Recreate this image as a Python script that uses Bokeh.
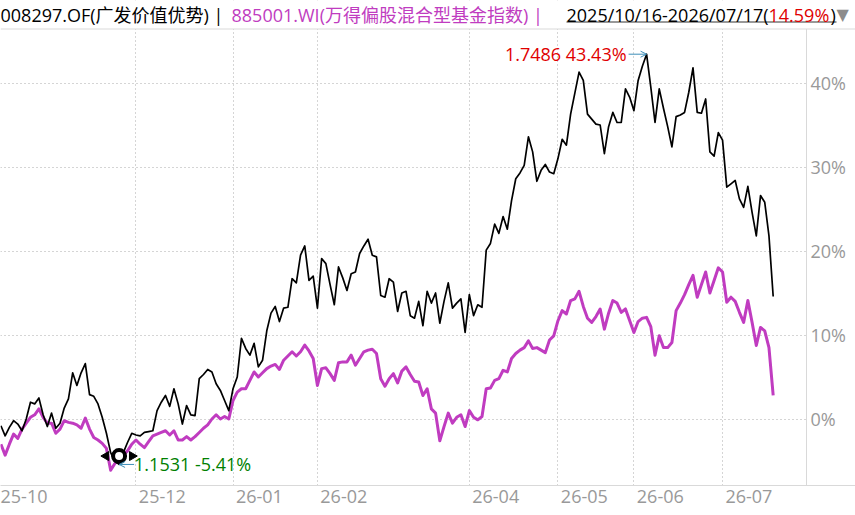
import math
from bokeh.plotting import figure
from bokeh.models import Range1d, FixedTicker, Label, Span, Arrow, OpenHead, BoxAnnotation
from bokeh.core.properties import value
from bokeh.embed import file_html
from bokeh.resources import INLINE

# ---------------- data ----------------
fund_name = "008297.OF(广发价值优势)"
bench_name = "885001.WI(万得偏股混合型基金指数)"
period = "2025/10/16-2026/07/17"
max_nav = "1.7486"
min_nav = "1.1531"

# cumulative return (%) of the fund, one value per trading day
fund_pct = [
    -0.8, -2.0, -1.0, -0.2, -0.6, -1.4, 0.0, 2.0, 1.8, 2.5,
    0.5, -0.9, 0.7, -1.1, -0.5, 1.3, 2.4, 5.5, 4.0, 5.5,
    6.6, 2.9, 2.7, 1.8, 0.2, -1.7, -4.0, -5.0, -5.41, -4.0,
    -2.8, -1.7, -1.9, -2.0, -1.6, -1.5, -1.4, 1.0, 2.0, 2.8,
    1.5, 3.6, 1.8, -0.6, 1.6, 0.5, 0.4, 4.8, 5.3, 5.9,
    5.6, 4.2, 3.4, 2.2, 1.0, 3.6, 5.0, 9.6, 8.4, 7.6,
    9.0, 6.2, 7.0, 10.5, 12.6, 13.4, 11.6, 13.2, 13.3, 16.7,
    16.2, 19.5, 20.6, 16.5, 17.0, 13.2, 19.1, 18.5, 16.0, 13.6,
    18.1, 16.8, 15.3, 17.3, 17.5, 19.7, 20.6, 21.4, 19.5, 19.3,
    14.7, 14.5, 16.7, 16.3, 12.8, 15.0, 15.2, 12.3, 12.0, 14.0,
    11.1, 15.2, 13.8, 15.0, 11.4, 14.0, 16.2, 13.2, 13.8, 14.3,
    10.3, 14.8, 12.3, 13.6, 13.3, 20.1, 20.9, 23.2, 22.1, 24.1,
    22.6, 26.0, 28.6, 29.3, 30.2, 33.6, 31.8, 28.3, 29.6, 30.3,
    29.4, 29.2, 31.0, 33.3, 32.6, 36.3, 38.8, 41.3, 40.3, 36.3,
    35.7, 35.1, 35.0, 31.6, 34.8, 36.5, 35.3, 35.3, 39.3, 38.3,
    36.7, 40.3, 42.0, 43.43, 39.5, 35.3, 39.3, 37.0, 34.8, 32.4,
    36.0, 36.2, 36.5, 38.9, 41.8, 36.5, 36.4, 38.1, 31.8, 31.3,
    34.1, 33.2, 27.6, 28.0, 28.4, 26.2, 25.2, 27.7, 24.6, 21.8,
    26.6, 25.8, 21.8, 14.59,
]

# cumulative return (%) of the benchmark index
bench_pct = [
    -3.0, -4.3, -3.0, -1.8, -2.3, -1.2, -0.5, 0.2, 0.5, 1.2,
    0.2, -0.5, -0.5, -1.7, -1.2, -0.2, -0.4, -0.5, -0.7, -1.1,
    0.1, -1.2, -2.2, -2.5, -2.9, -3.5, -6.1, -5.3, -4.8, -4.3,
    -3.8, -3.0, -2.5, -3.0, -3.4, -2.7, -2.0, -1.8, -1.6, -1.4,
    -1.9, -1.4, -2.5, -2.5, -2.1, -2.5, -2.1, -1.6, -1.1, -0.7,
    0.0, 0.5, 0.0, 0.3, 0.0, 2.2, 3.2, 3.6, 3.6, 4.6,
    5.6, 5.0, 5.5, 6.0, 6.3, 6.5, 5.9, 7.0, 7.5, 8.0,
    7.5, 8.0, 8.8, 8.1, 7.2, 4.0, 6.0, 6.1, 5.4, 4.6,
    6.7, 6.8, 6.8, 7.6, 6.4, 7.2, 8.0, 8.2, 8.3, 7.8,
    4.8, 3.9, 4.8, 5.4, 4.3, 5.7, 6.2, 5.3, 4.5, 4.4,
    2.8, 3.6, 1.2, 0.7, -2.6, -0.9, 0.7, -0.5, 0.2, 0.5,
    -0.9, 1.0, 0.2, -0.1, 0.3, 3.6, 3.7, 4.6, 4.8, 5.8,
    5.6, 7.2, 7.8, 8.2, 8.5, 9.3, 8.4, 8.5, 8.2, 7.9,
    9.4, 9.9, 11.7, 12.9, 12.5, 14.1, 14.3, 15.2, 13.4, 12.0,
    11.5, 12.2, 13.1, 10.7, 12.6, 14.1, 13.8, 12.7, 13.1, 11.7,
    10.3, 11.6, 12.0, 12.1, 11.0, 7.6, 9.9, 8.5, 8.5, 9.1,
    12.9, 13.8, 14.8, 16.0, 17.1, 14.5, 16.0, 17.5, 15.0, 16.5,
    18.0, 17.5, 13.9, 14.5, 14.0, 12.7, 11.5, 14.1, 11.5, 8.75,
    10.9, 10.5, 8.5, 2.8,
]

month_labels = ["25-10", "25-12", "26-01", "26-02", "26-04", "26-05", "26-06", "26-07"]
month_index = [0, 32, 55, 75, 111, 132, 150, 171]
grid_index = [32, 55, 75, 111, 132, 150, 171]
y_ticks = [0, 10, 20, 30, 40]

# ---------------- style / layout ----------------
FONT = "'Open Sans', 'Noto Sans CJK SC', sans-serif"
FUND_COLOR = "#000000"
BENCH_COLOR = "#c03cc0"
AXIS_TEXT = "#999999"
GRID = "#aaaaaa"
BORDER = "#d9d9d9"
RED = "#e00000"
GREEN = "#008000"
TEAL = "#3d8eb9"

FRAME_W, FRAME_H = 855, 485   # whole width; the value scale sits at the right
PLOT_RIGHT = 806              # px where the line area ends
ppu = 4.22                    # px per trading day
ppv = 8.4                     # px per 1 %
X0 = -0.1
X1 = X0 + FRAME_W / ppu
ZERO_PX = 418.5               # px from the top where 0 % sits
Y1 = ZERO_PX / ppv
Y0 = Y1 - FRAME_H / ppv


def px_x(px):
    return X0 + px / ppu


def px_y(px):
    return Y1 - px / ppv


p = figure(frame_width=FRAME_W, frame_height=FRAME_H,
           x_range=Range1d(X0, X1), y_range=Range1d(Y0, Y1),
           y_axis_location=None, output_backend="svg", toolbar_location=None,
           min_border_left=0, min_border_right=0, min_border_top=0, min_border_bottom=30)
p.outline_line_color = None
p.background_fill_color = "white"

# x axis (month labels, left-aligned after each month's grid line)
xa = p.xaxis[0]
label_shift = 6.25
xticks = [m + label_shift for m in month_index]
xticks[0] = max(xticks[0], px_x(23.5))
xticks[0] = min(xticks[0], px_x(23.5))
xa.ticker = FixedTicker(ticks=xticks)
xa.major_label_overrides = {t: lab for t, lab in zip(xticks, month_labels)}
xa.axis_line_color = BORDER
xa.major_tick_out = 0
xa.major_tick_in = 0
xa.minor_tick_out = 0
xa.minor_tick_in = 0
xa.major_label_standoff = 4
xa.major_label_text_font = FONT
xa.major_label_text_font_size = "18px"
xa.major_label_text_color = AXIS_TEXT

# grids
p.xgrid.ticker = FixedTicker(ticks=grid_index)
p.xgrid.grid_line_color = GRID
p.xgrid.grid_line_dash = "1 3"
p.ygrid.ticker = FixedTicker(ticks=y_ticks)
p.ygrid.grid_line_color = GRID
p.ygrid.grid_line_dash = "1 3"

# header band and value-scale band cover the grid
HEADER_LINE = px_y(28.5)
p.add_layout(BoxAnnotation(bottom=HEADER_LINE, fill_color="white", fill_alpha=1,
                           line_color=None, level="underlay"))
p.add_layout(BoxAnnotation(left=px_x(PLOT_RIGHT), fill_color="white", fill_alpha=1,
                           line_color=None, level="underlay"))
p.add_layout(Span(location=HEADER_LINE, dimension="width", line_color=BORDER, line_width=1))
p.segment(x0=[px_x(PLOT_RIGHT)], y0=[HEADER_LINE], x1=[px_x(PLOT_RIGHT)], y1=[Y0],
          line_color=BORDER, line_width=1)

# value scale labels on the right
p.text(x=[px_x(PLOT_RIGHT + 4)] * len(y_ticks), y=y_ticks,
       text=[f"{t}%" for t in y_ticks], text_align="left", text_baseline="middle",
       text_color=AXIS_TEXT, text_font=value(FONT), text_font_size="18px")

# series
xs = list(range(len(fund_pct)))
p.line(xs, bench_pct, line_color=BENCH_COLOR, line_width=3, line_join="round")
p.line(xs, fund_pct, line_color=FUND_COLOR, line_width=1.7, line_join="round")

# max annotation
imax = max(range(len(fund_pct)), key=lambda i: fund_pct[i])
vmax = fund_pct[imax]
p.text(x=[imax], y=[vmax], text=[f"{max_nav} {vmax:.2f}%"], x_offset=-20,
       text_align="right", text_baseline="middle", text_color=RED,
       text_font=value(FONT), text_font_size="18px")
p.add_layout(Arrow(x_start=imax - 18 / ppu, y_start=vmax, x_end=imax, y_end=vmax,
                   line_color=TEAL, line_width=1,
                   end=OpenHead(size=6, line_color=TEAL, line_width=1)))

# min annotation
imin = min(range(len(fund_pct)), key=lambda i: fund_pct[i])
vmin = fund_pct[imin]
p.text(x=[imin], y=[vmin], text=[f"{min_nav} {vmin:.2f}%"], x_offset=15,
       text_align="left", text_baseline="middle", text_color=GREEN,
       text_font=value(FONT), text_font_size="18px")
p.add_layout(Arrow(x_start=imin + 15 / ppu, y_start=vmin, x_end=imin, y_end=vmin,
                   line_color=TEAL, line_width=1,
                   end=OpenHead(size=6, line_color=TEAL, line_width=1)))
mx, my = imin, vmin + 1.0
p.scatter([mx - 13 / ppu], [my], marker="triangle", size=9, angle=math.pi / 2,
          fill_color="black", line_color="black")
p.scatter([mx + 13 / ppu], [my], marker="triangle", size=9, angle=-math.pi / 2,
          fill_color="black", line_color="black")
p.scatter([mx], [my], marker="circle", size=12, fill_color="white",
          line_color="black", line_width=4)

# header texts (positions in px from the left / top)
HY = px_y(14)
header = [
    (0, fund_name + " |", "#000000"),
    (231, bench_name + " |", BENCH_COLOR),
    (566, period + "(", "#000000"),
    (768, f"{fund_pct[-1]:.2f}%", RED),
    (830, ")", "#000000"),
]
for hx, txt, col in header:
    p.add_layout(Label(x=px_x(hx), y=HY, text=txt, text_color=col, text_font=FONT,
                       text_font_size="18px", text_baseline="middle", text_align="left"))
p.add_layout(Label(x=px_x(836), y=HY, text="▼", text_color="#8c8c8c",
                   text_font="DejaVu Sans", text_font_size="16px",
                   text_baseline="middle", text_align="left"))
p.segment(x0=[px_x(566)], y0=[px_y(21.5)], x1=[px_x(836)], y1=[px_y(21.5)],
          line_color="#333333", line_width=1)

open("out.html", "w").write(file_html(p, INLINE))
